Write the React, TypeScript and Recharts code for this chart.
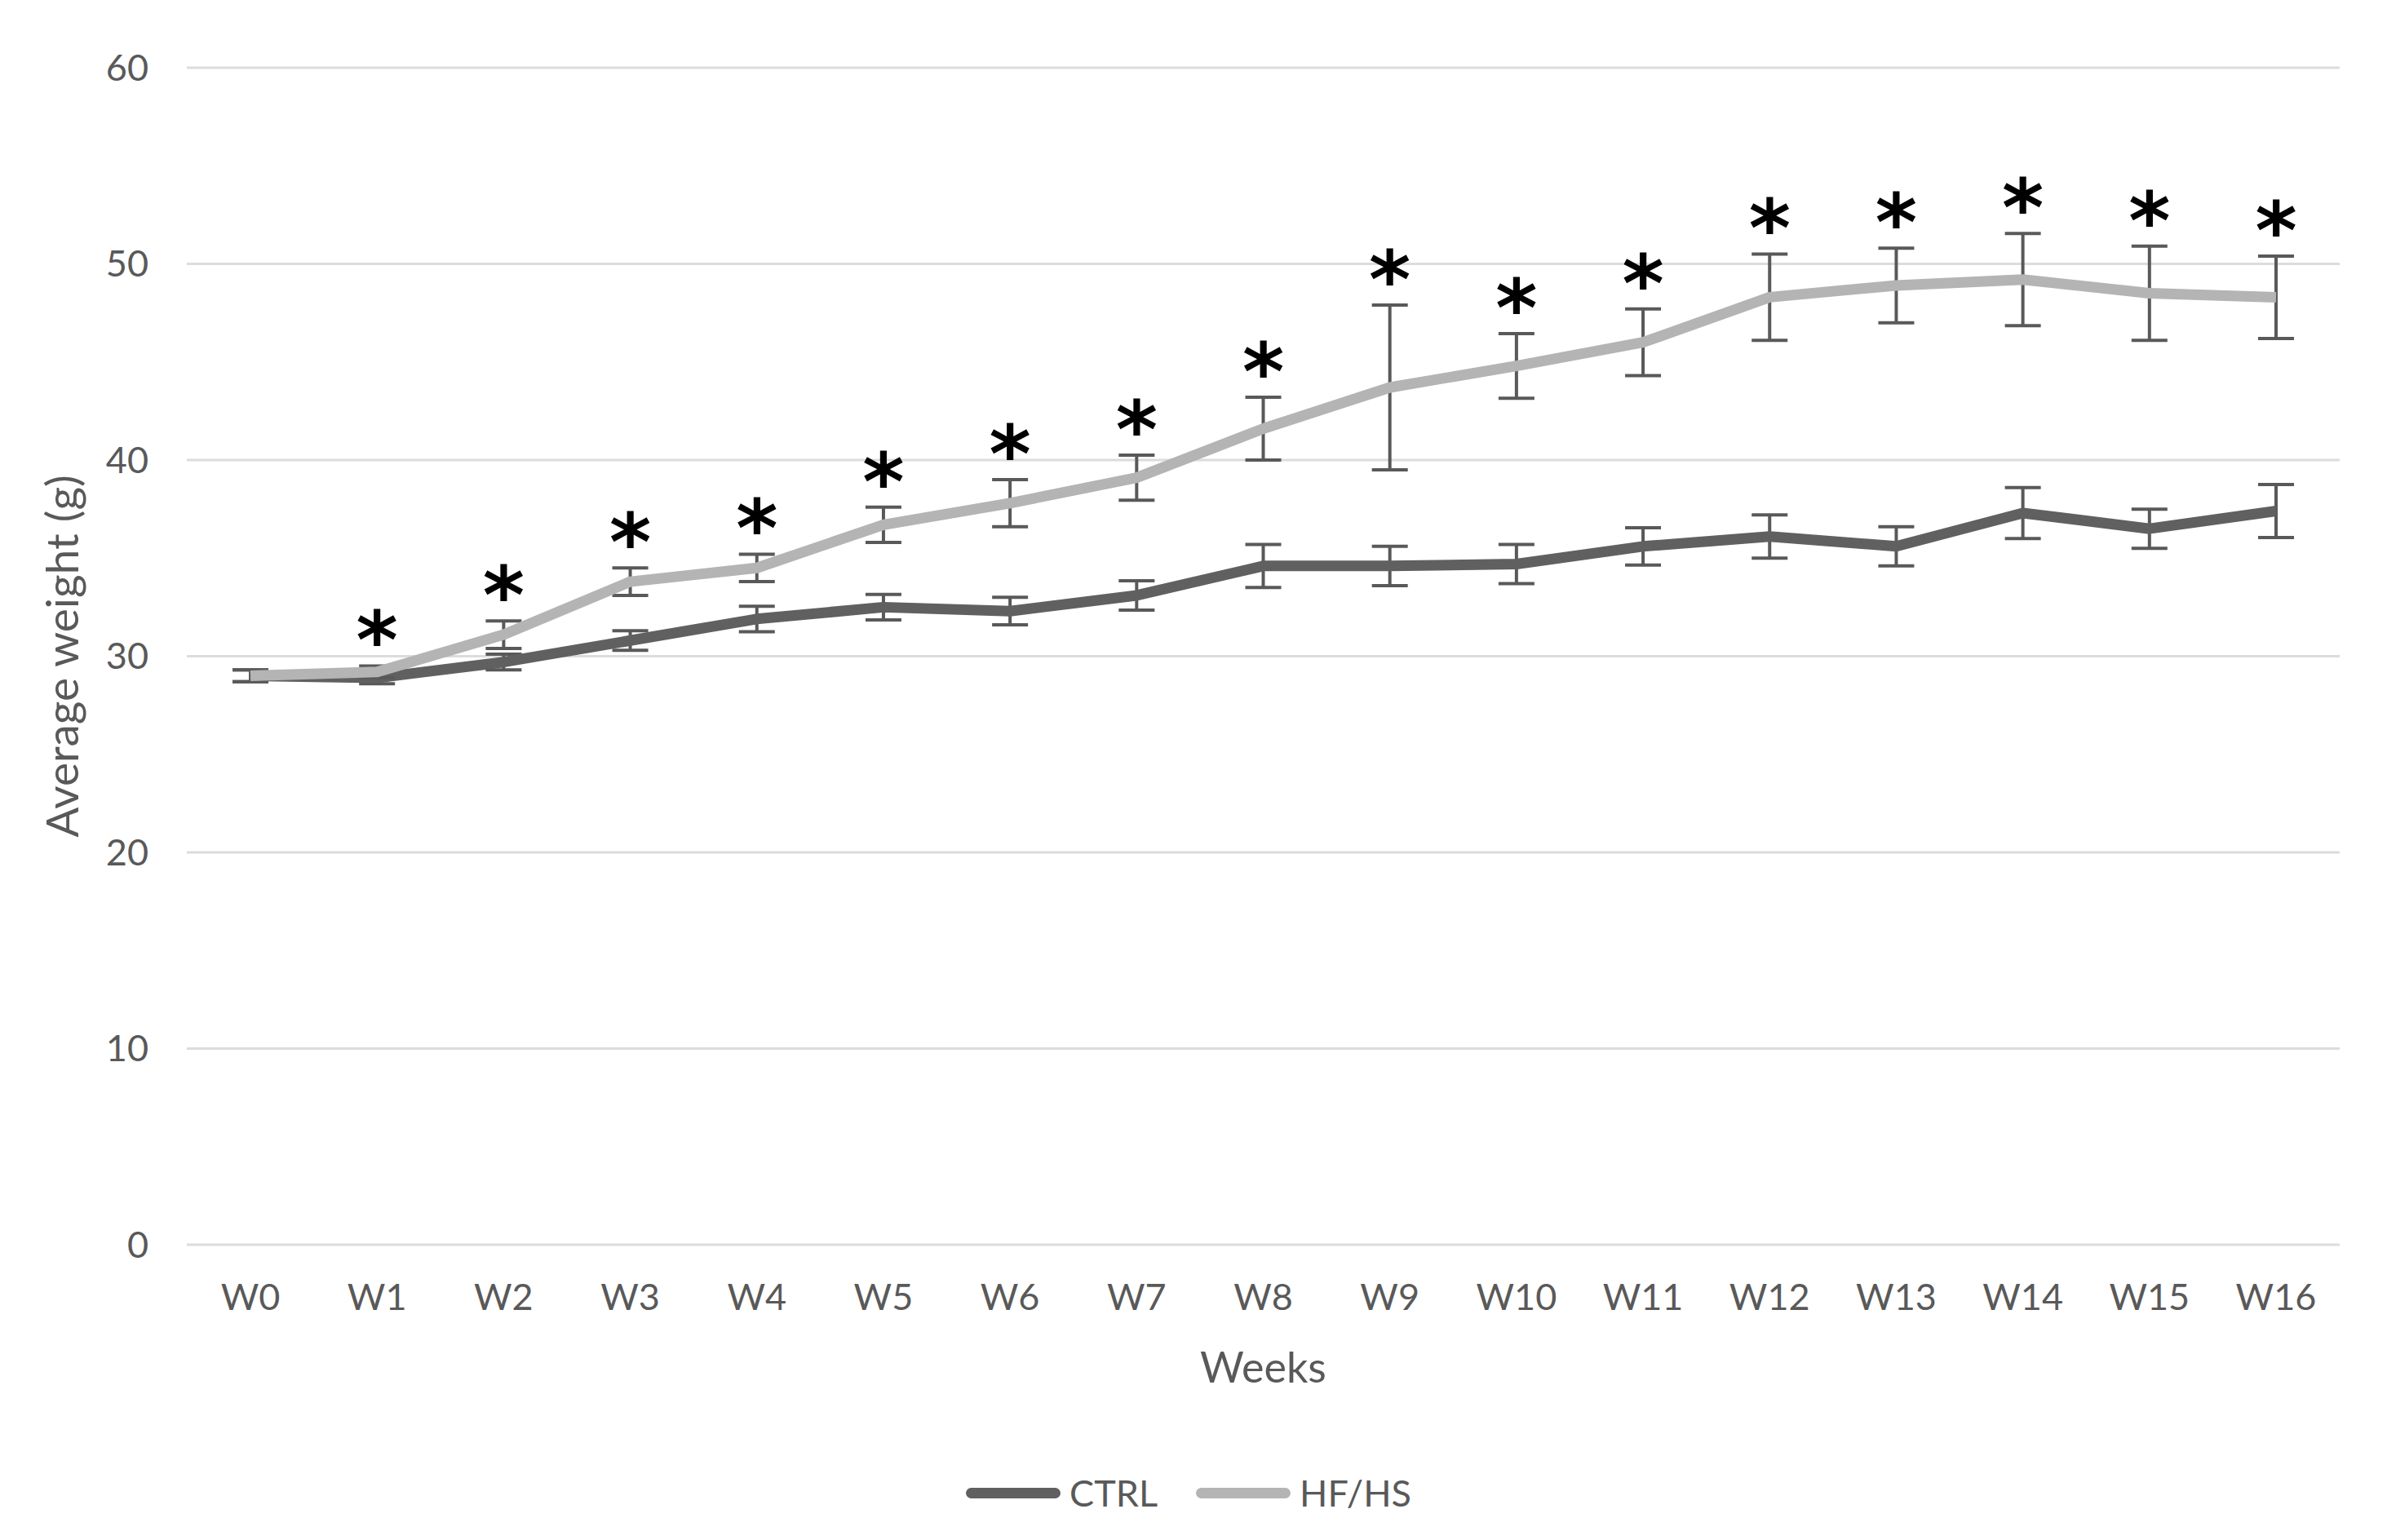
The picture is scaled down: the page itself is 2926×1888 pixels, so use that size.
import React from 'react';
import {
  LineChart,
  Line,
  XAxis,
  YAxis,
  CartesianGrid,
  ErrorBar,
  LabelList,
  Legend,
} from 'recharts';

const weeks = ['W0', 'W1', 'W2', 'W3', 'W4', 'W5', 'W6', 'W7', 'W8', 'W9', 'W10', 'W11', 'W12', 'W13', 'W14', 'W15', 'W16'];

const ctrlMean = [29.0, 28.9, 29.7, 30.8, 31.9, 32.5, 32.3, 33.1, 34.6, 34.6, 34.7, 35.6, 36.1, 35.6, 37.3, 36.5, 37.4];
const ctrlErr = [0.3, 0.3, 0.4, 0.5, 0.65, 0.65, 0.7, 0.75, 1.1, 1.0, 1.0, 0.95, 1.1, 1.0, 1.3, 1.0, 1.35];

const hfMean = [29.0, 29.2, 31.1, 33.8, 34.5, 36.7, 37.8, 39.1, 41.6, 43.7, 44.8, 46.0, 48.3, 48.9, 49.2, 48.5, 48.3];
const hfErr = [0.3, 0.3, 0.7, 0.7, 0.7, 0.9, 1.2, 1.15, 1.6, 4.2, 1.65, 1.7, 2.2, 1.9, 2.35, 2.4, 2.1];

// significance marks (*) above the HF/HS error bars
const significant = [false, true, true, true, true, true, true, true, true, true, true, true, true, true, true, true, true];

const yTicks = [0, 10, 20, 30, 40, 50, 60];

const series = [
  { name: 'CTRL', color: '#606060' },
  { name: 'HF/HS', color: '#b4b4b4' },
];

const FONT = 'Lato, "Open Sans", sans-serif';
const TEXT = '#595959';

const rows = weeks.map((week, i) => ({
  week,
  ctrl: ctrlMean[i],
  ctrlErr: ctrlErr[i],
  hf: hfMean[i],
  hfErr: hfErr[i],
  errTop: significant[i] ? hfMean[i] + hfErr[i] : null,
}));

const STAR_SIZE = 98;

const renderStar = (props: any) => {
  const { x, y, value } = props;
  if (value == null || y == null) return null;
  const cy = y - 55;
  return (
    <text
      x={x}
      y={cy + STAR_SIZE * 0.59}
      textAnchor="middle"
      fontSize={STAR_SIZE}
      fontWeight="bold"
      fontFamily='"DejaVu Sans", sans-serif'
      fill="#000"
    >
      *
    </text>
  );
};

const renderLegend = () => (
  <div
    style={{
      height: 80,
      paddingLeft: 46,
      display: 'flex',
      alignItems: 'center',
      justifyContent: 'center',
      fontFamily: FONT,
      fontSize: 45,
      color: TEXT,
    }}
  >
    {series.map((s, i) => (
      <div key={s.name} style={{ display: 'flex', alignItems: 'center', marginLeft: i === 0 ? 0 : 47 }}>
        <div style={{ width: 116, height: 13, borderRadius: 7, background: s.color, marginRight: 11 }} />
        <span>{s.name}</span>
      </div>
    ))}
  </div>
);

const yTitle = (props: any) => {
  const { viewBox } = props;
  const cx = 75;
  const cy = viewBox.y + viewBox.height / 2;
  return (
    <text
      x={cx}
      y={cy}
      transform={`rotate(-90, ${cx}, ${cy})`}
      textAnchor="middle"
      dominantBaseline="central"
      fontSize={55}
      fontFamily={FONT}
      fill={TEXT}
    >
      Average weight (g)
    </text>
  );
};

const xTitle = (props: any) => {
  const { viewBox } = props;
  return (
    <text
      x={viewBox.x + viewBox.width / 2}
      y={1695}
      textAnchor="middle"
      fontSize={52}
      fontFamily={FONT}
      fill={TEXT}
    >
      Weeks
    </text>
  );
};

export default function App() {
  return (
    <div style={{ position: 'absolute', left: 0, top: 0, width: 2926, height: 1888, background: '#fff' }}>
      <LineChart width={2926} height={1888} data={rows} margin={{ top: 83, right: 58, bottom: 18, left: 0 }}>
        <CartesianGrid vertical={false} stroke="#dcdcdc" strokeWidth={3} />
        <XAxis
          dataKey="week"
          height={264}
          interval={0}
          padding={{ left: 78, right: 78 }}
          axisLine={false}
          tickLine={false}
          tickSize={0}
          tickMargin={48}
          tick={{ fill: TEXT, fontSize: 45, fontFamily: FONT }}
          label={xTitle}
        />
        <YAxis
          width={229}
          domain={[0, 60]}
          ticks={yTicks}
          axisLine={false}
          tickLine={false}
          tickSize={0}
          tickMargin={47}
          tick={{ fill: TEXT, fontSize: 45, fontFamily: FONT }}
          label={yTitle}
        />
        <Legend verticalAlign="bottom" content={renderLegend} />
        <Line
          dataKey="ctrl"
          name="CTRL"
          stroke={series[0].color}
          strokeWidth={13}
          strokeLinejoin="round"
          dot={false}
          activeDot={false}
          isAnimationActive={false}
        >
          <ErrorBar dataKey="ctrlErr" width={22} strokeWidth={4} stroke="#595959" />
        </Line>
        <Line
          dataKey="hf"
          name="HF/HS"
          stroke={series[1].color}
          strokeWidth={13}
          strokeLinejoin="round"
          dot={false}
          activeDot={false}
          isAnimationActive={false}
        >
          <ErrorBar dataKey="hfErr" width={22} strokeWidth={4} stroke="#595959" />
        </Line>
        <Line
          dataKey="errTop"
          stroke="none"
          dot={false}
          activeDot={false}
          legendType="none"
          isAnimationActive={false}
        >
          <LabelList dataKey="errTop" content={renderStar} />
        </Line>
      </LineChart>
    </div>
  );
}
